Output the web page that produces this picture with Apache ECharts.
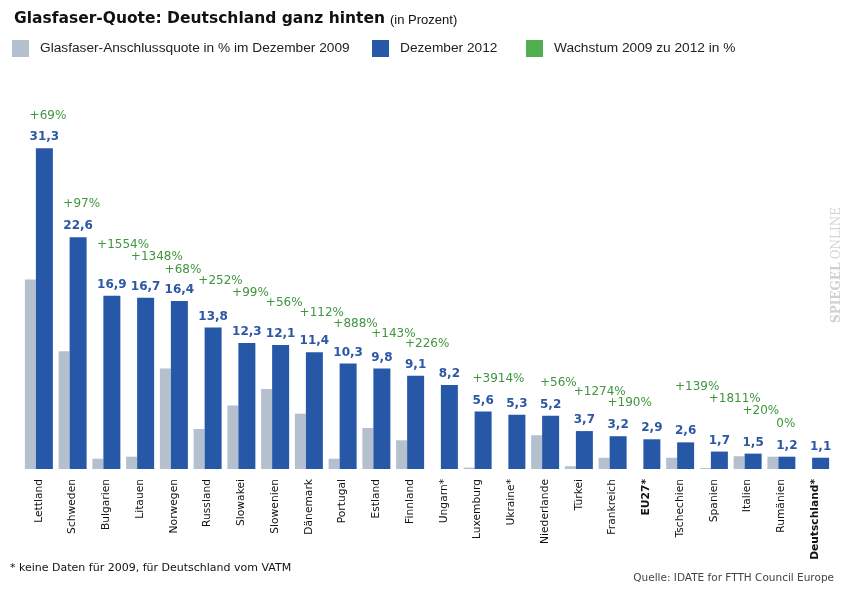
<!DOCTYPE html>
<html>
<head>
<meta charset="utf-8">
<script src="https://cdn.jsdelivr.net/npm/echarts@6/dist/echarts.min.js"></script>
<style>html,body{margin:0;padding:0;background:#fff}#c{width:850px;height:599px}</style>
</head>
<body>
<div id="c"></div>
<script>
const categories = ['Lettland','Schweden','Bulgarien','Litauen','Norwegen','Russland','Slowakei','Slowenien','Dänemark','Portugal','Estland','Finnland','Ungarn*','Luxemburg','Ukraine*','Niederlande','Türkei','Frankreich','EU27*','Tschechien','Spanien','Italien','Rumänien','Deutschland*'];
const quote2009 = [18.5,11.5,1.0,1.2,9.8,3.9,6.2,7.8,5.4,1.0,4.0,2.8,null,0.14,null,3.3,0.27,1.1,null,1.1,0.09,1.25,1.2,null];
const quote2012 = [31.3,22.6,16.9,16.7,16.4,13.8,12.3,12.1,11.4,10.3,9.8,9.1,8.2,5.6,5.3,5.2,3.7,3.2,2.9,2.6,1.7,1.5,1.2,1.1];
const growth = ['+69%','+97%','+1554%','+1348%','+68%','+252%','+99%','+56%','+112%','+888%','+143%','+226%',null,'+3914%',null,'+56%','+1274%','+190%',null,'+139%','+1811%','+20%','0%',null];
// label layout: vertical lift (px) of each growth label above its 2012 bar top
const growthLabelLift = [-32,-33,-51,-41,-31,-47,-50,-42,-39,-40,-35,-32,0,-33,0,-33,-39,-33,0,-55,-53,-43,-33,0];
const boldCats = ['EU27*','Deutschland*'];

const C_GRAY = '#b5c0cf', C_BLUE = '#2758a8', C_GREEN = '#4fae4f', C_LBL = '#2b57a3', C_GLBL = '#3f963d';
const GRAY_W = 11, BLUE_W = 17;
const blueFont = 'bold 12px "DejaVu Sans"';
const fmt = v => String(v).replace('.', ',');

const ctx = document.createElement('canvas').getContext('2d');
ctx.font = blueFont;
const blueOffset = (GRAY_W + BLUE_W) / 2 - BLUE_W / 2; // centre of blue bar relative to category centre

const growthData = [];
categories.forEach((c, i) => {
  if (growth[i] == null) return;
  const w = ctx.measureText(fmt(quote2012[i])).width;
  growthData.push({
    value: [i, quote2012[i]],
    label: { position: [blueOffset - w / 2, growthLabelLift[i]], formatter: growth[i] }
  });
});

const chart = echarts.init(document.getElementById('c'));
chart.setOption({
  animation: false,
  title: {
    left: 9, top: 5,
    text: '{a|Glasfaser-Quote: Deutschland ganz hinten} {b|(in Prozent)}',
    textStyle: {
      rich: {
        a: { fontFamily: 'DejaVu Sans', fontWeight: 'bold', fontSize: 15.5, color: '#111' },
        b: { fontFamily: 'Liberation Sans', fontWeight: 'normal', fontSize: 13, color: '#111', padding: [2, 0, 0, 0] }
      }
    }
  },
  legend: [
    { left: 12, top: 40, data: ['Glasfaser-Anschlussquote in % im Dezember 2009'] },
    { left: 372, top: 40, data: ['Dezember 2012'] },
    { left: 526, top: 40, data: ['Wachstum 2009 zu 2012 in %'] }
  ].map(l => Object.assign(l, {
    padding: 0, itemWidth: 17, itemHeight: 17, icon: 'rect', selectedMode: false,
    itemStyle: { opacity: 1 },
    textStyle: { fontFamily: 'Liberation Sans', fontSize: 13.7, color: '#222', padding: [0, 0, 0, 6] }
  })),
  grid: { left: 22, right: 18, top: 59, bottom: 130 },
  xAxis: {
    type: 'category', data: categories,
    axisLine: { show: false }, axisTick: { show: false },
    axisLabel: {
      rotate: 90, margin: 10, interval: 0,
      fontFamily: 'DejaVu Sans', fontSize: 10.7, color: '#111',
      formatter: v => boldCats.includes(v) ? '{b|' + v + '}' : v,
      rich: { b: { fontFamily: 'DejaVu Sans', fontSize: 10.7, fontWeight: 'bold', color: '#111' } }
    }
  },
  yAxis: { type: 'value', min: 0, max: 40, show: false, splitLine: { show: false } },
  series: [
    {
      name: 'Glasfaser-Anschlussquote in % im Dezember 2009', type: 'bar',
      data: quote2009, barWidth: GRAY_W, barGap: '0%',
      itemStyle: { color: C_GRAY }
    },
    {
      name: 'Dezember 2012', type: 'bar',
      data: quote2012, barWidth: BLUE_W, barGap: '0%',
      itemStyle: { color: C_BLUE },
      label: {
        show: true, position: 'top', distance: 5,
        fontFamily: 'DejaVu Sans', fontWeight: 'bold', fontSize: 12, color: C_LBL,
        formatter: p => fmt(p.value)
      }
    },
    {
      name: 'Wachstum 2009 zu 2012 in %', type: 'scatter',
      symbolSize: 0, data: growthData, silent: true,
      itemStyle: { color: C_GREEN, opacity: 1 },
      label: {
        show: true, align: 'left', verticalAlign: 'middle',
        fontFamily: 'DejaVu Sans', fontSize: 12, color: C_GLBL
      },
      z: 5
    }
  ],
  graphic: [
    {
      type: 'text', left: 10, top: 563,
      style: { text: '* keine Daten für 2009, für Deutschland vom VATM', font: '11px "DejaVu Sans"', fill: '#111' }
    },
    {
      type: 'text', right: 16, top: 573,
      style: { text: 'Quelle: IDATE for FTTH Council Europe', font: '10.5px "DejaVu Sans"', fill: '#444' }
    },
    {
      type: 'text', x: 837, y: 265, rotation: Math.PI / 2,
      style: {
        text: '{s|SPIEGEL} {o|ONLINE}', align: 'center', verticalAlign: 'middle',
        rich: {
          s: { fontFamily: 'DejaVu Serif', fontWeight: 'bold', fontSize: 12, fill: '#d0d0d0' },
          o: { fontFamily: 'DejaVu Serif', fontSize: 12, fill: '#d6d6d6' }
        }
      }
    }
  ]
});
</script>
</body>
</html>
